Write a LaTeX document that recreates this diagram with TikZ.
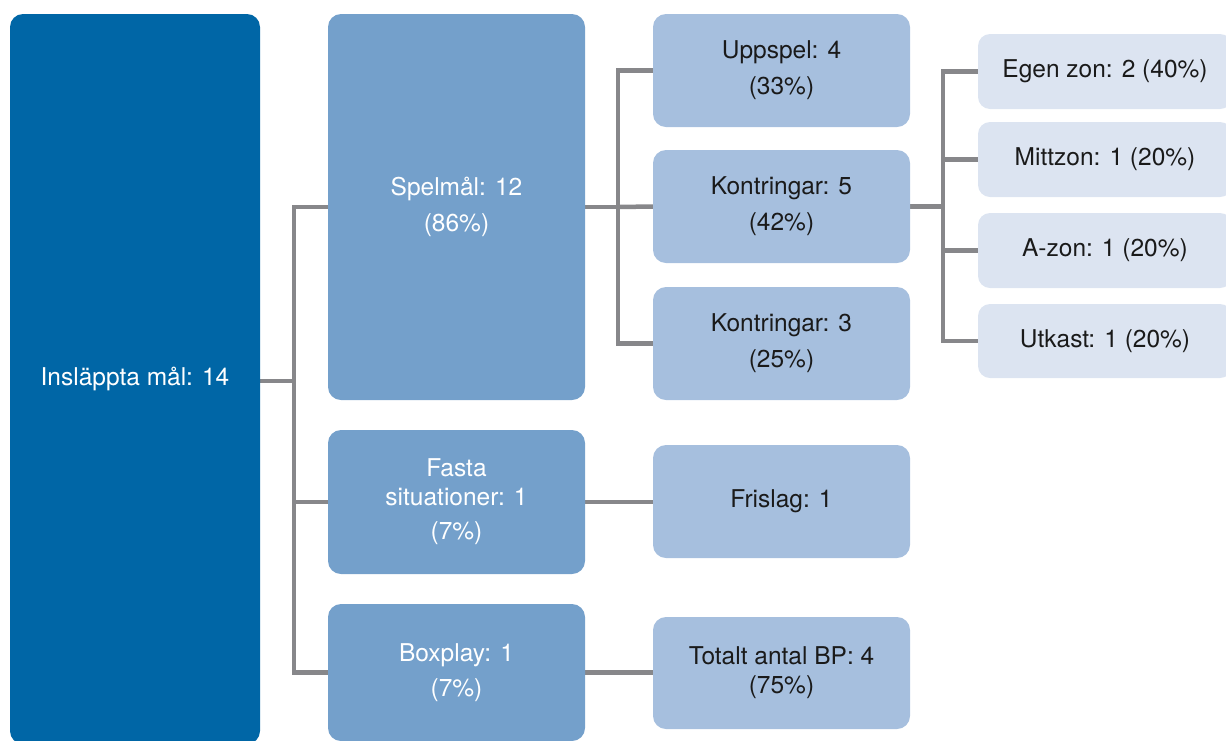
\documentclass[tikz,border=0pt]{standalone}
\usepackage{fontspec}
\setmainfont{TeX Gyre Heros}
\usetikzlibrary{backgrounds}
\definecolor{cRoot}{HTML}{0066A6}
\definecolor{cLtwo}{HTML}{74A0CB}
\definecolor{cLthree}{HTML}{A6BFDE}
\definecolor{cLfour}{HTML}{DCE4F1}
\definecolor{cLine}{HTML}{87878A}
\definecolor{cText}{HTML}{1A1A1A}
\tikzset{
  boxbase/.style={rectangle, rounded corners=13pt, inner sep=0pt, align=center,
    font=\fontsize{24.5}{29}\selectfont},
  rootbox/.style={boxbase, fill=cRoot, text=white, minimum width=250pt, minimum height=730pt},
  ltwobox/.style={boxbase, fill=cLtwo, text=white, minimum width=257pt},
  lthreebox/.style={boxbase, fill=cLthree, text=cText, minimum width=257pt, minimum height=113pt},
  lfourbox/.style={boxbase, rounded corners=12pt, fill=cLfour, text=cText, minimum width=254pt, minimum height=75pt},
  conn/.style={draw=cLine, line width=4.5pt}
}
\begin{document}
\begin{tikzpicture}[x=1pt,y=-1pt]
\useasboundingbox (0,0) rectangle (1226,740);
\clip (0,0) rectangle (1226,740);
% level 1
\node[rootbox] (root) at (135,379) {Insläppta mål: 14};
% level 2
\node[ltwobox, minimum height=386pt] (spel) at (456.5,207) {Spelmål: 12\\[7pt](86\%)};
\node[ltwobox, minimum height=144pt] (fasta) at (456.5,502) {Fasta\\situationer: 1\\[5pt](7\%)};
\node[ltwobox, minimum height=137pt] (boxp) at (456.5,672.5) {Boxplay: 1\\[6pt](7\%)};
% level 3
\node[lthreebox] (upp) at (781.5,70.5) {Uppspel: 4\\[7pt](33\%)};
\node[lthreebox] (kfem) at (781.5,206.5) {Kontringar: 5\\[7pt](42\%)};
\node[lthreebox] (ktre) at (781.5,343.5) {Kontringar: 3\\[7pt](25\%)};
\node[lthreebox] (fri) at (781.5,501.5) {Frislag: 1};
\node[lthreebox, minimum height=112pt] (tot) at (781.5,673) {Totalt antal BP: 4\\(75\%)};
% level 4
\node[lfourbox] (egen) at (1105,71.5) {Egen zon: 2 (40\%)};
\node[lfourbox] (mitt) at (1105,159.5) {Mittzon: 1 (20\%)};
\node[lfourbox] (azon) at (1105,250.5) {A-zon: 1 (20\%)};
\node[lfourbox, minimum height=74pt] (utk) at (1105,341) {Utkast: 1 (20\%)};
% connectors
\coordinate (bone) at (294,381);
\coordinate (btwo) at (618,207);
\coordinate (bthree) at (943,206.5);
\begin{pgfonlayer}{background}
\draw[conn] (root.east |- bone) -- (bone);
\draw[conn] (spel.west) -| (bone) |- (boxp.west);
\draw[conn] (bone |- fasta.west) -- (fasta.west);
\draw[conn] (spel.east) -- (btwo);
\draw[conn] (upp.west) -| (btwo) |- (ktre.west);
\draw[conn] (btwo) -- (kfem.west);
\draw[conn] (kfem.east) -- (bthree);
\draw[conn] (egen.west) -| (bthree) |- (utk.west);
\draw[conn] (bthree |- mitt.west) -- (mitt.west);
\draw[conn] (bthree |- azon.west) -- (azon.west);
\draw[conn] (fasta.east) -- (fasta.east -| fri.west);
\draw[conn] (boxp.east) -- (boxp.east -| tot.west);
\end{pgfonlayer}
\end{tikzpicture}
\end{document}
